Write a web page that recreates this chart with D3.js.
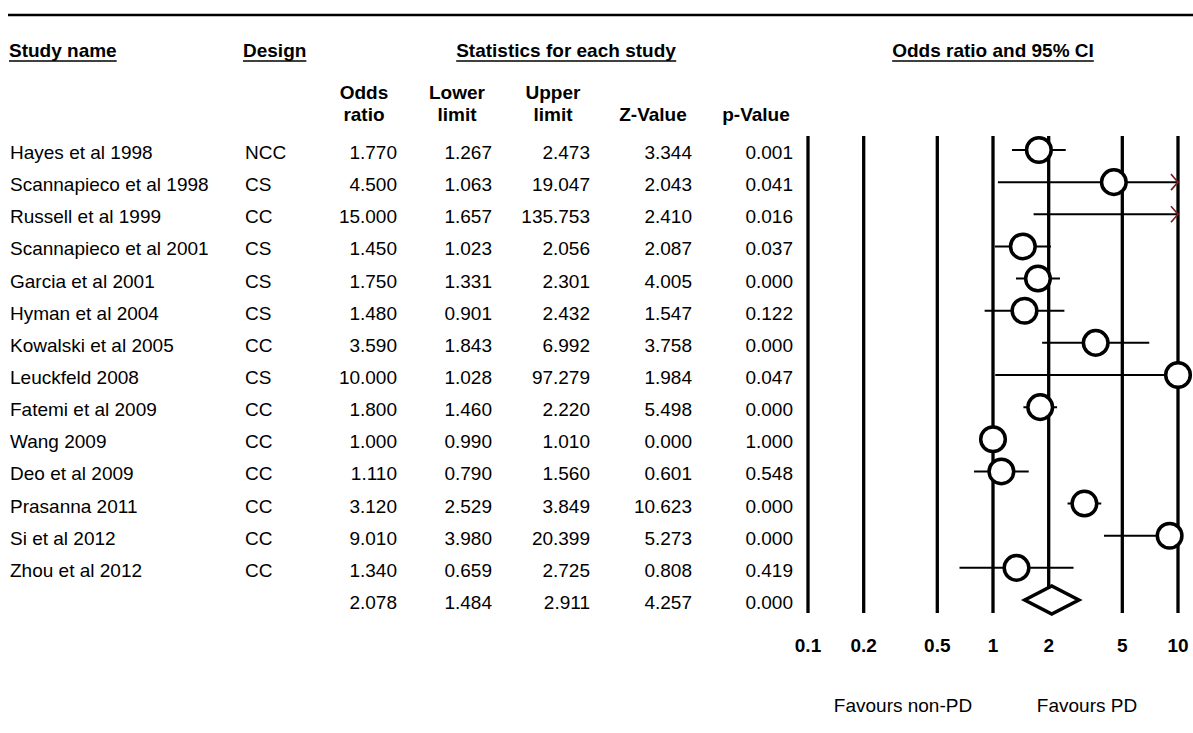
<!DOCTYPE html>
<html>
<head>
<meta charset="utf-8">
<script src="https://cdn.jsdelivr.net/npm/d3@7"></script>
<style>
  html, body { margin: 0; padding: 0; background: #fff; }
  svg { display: block; }
  text { font-family: "Liberation Sans", Arial, sans-serif; fill: #000; }
</style>
</head>
<body>
<svg id="chart" width="1193" height="733"></svg>
<script>
const studies = ["Hayes et al 1998","Scannapieco et al 1998","Russell et al 1999","Scannapieco et al 2001","Garcia et al 2001","Hyman et al 2004","Kowalski et al 2005","Leuckfeld 2008","Fatemi et al 2009","Wang 2009","Deo et al 2009","Prasanna 2011","Si et al 2012","Zhou et al 2012"];
const designs = ["NCC","CS","CC","CS","CS","CS","CC","CS","CC","CC","CC","CC","CC","CC"];
const oddsRatio = [1.770,4.500,15.000,1.450,1.750,1.480,3.590,10.000,1.800,1.000,1.110,3.120,9.010,1.340];
const lowerLimit = [1.267,1.063,1.657,1.023,1.331,0.901,1.843,1.028,1.460,0.990,0.790,2.529,3.980,0.659];
const upperLimit = [2.473,19.047,135.753,2.056,2.301,2.432,6.992,97.279,2.220,1.010,1.560,3.849,20.399,2.725];
const zValue = [3.344,2.043,2.410,2.087,4.005,1.547,3.758,1.984,5.498,0.000,0.601,10.623,5.273,0.808];
const pValue = [0.001,0.041,0.016,0.037,0.000,0.122,0.000,0.047,0.000,1.000,0.548,0.000,0.000,0.419];
const summaryOR = 2.078, summaryLower = 1.484, summaryUpper = 2.911, summaryZ = 4.257, summaryP = 0.000;
const tickValues = [0.1,0.2,0.5,1,2,5,10];
const tickLabels = ["0.1","0.2","0.5","1","2","5","10"];

const svg = d3.select("#chart");
const FS = 19;
const nRows = studies.length + 1;
const y = d3.scalePoint().domain(d3.range(nRows)).range([150, 600]);
const x = d3.scaleLog().domain([0.1, 10]).range([808, 1178]);
const fmt = d3.format(".3f");
const base = 9; // baseline offset from row centre

// top rule
svg.append("line").attr("x1", 8).attr("x2", 1193).attr("y1", 15).attr("y2", 15)
  .attr("stroke", "#000").attr("stroke-width", 2.5);

// header row 1 (bold, underlined)
function ulText(t, xpos, anchor) {
  const el = svg.append("text").attr("x", xpos).attr("y", 57).attr("font-size", FS)
    .attr("font-weight", "bold").attr("text-anchor", anchor).text(t);
  const bb = el.node().getBBox();
  svg.append("line").attr("x1", bb.x).attr("x2", bb.x + bb.width).attr("y1", 61).attr("y2", 61)
    .attr("stroke", "#000").attr("stroke-width", 1.5);
}
ulText("Study name", 9, "start");
ulText("Design", 243, "start");
ulText("Statistics for each study", 566, "middle");
ulText("Odds ratio and 95% CI", x(1), "middle");

// column definitions
const cols = [
  {h1: "Odds", h2: "ratio", cx: 364, right: 397, vals: oddsRatio, s: summaryOR},
  {h1: "Lower", h2: "limit", cx: 457, right: 492, vals: lowerLimit, s: summaryLower},
  {h1: "Upper", h2: "limit", cx: 553, right: 590, vals: upperLimit, s: summaryUpper},
  {h1: "", h2: "Z-Value", cx: 653, right: 692, vals: zValue, s: summaryZ},
  {h1: "", h2: "p-Value", cx: 756, right: 793, vals: pValue, s: summaryP}
];
cols.forEach(c => {
  if (c.h1) svg.append("text").attr("x", c.cx).attr("y", 99).attr("font-size", FS)
    .attr("font-weight", "bold").attr("text-anchor", "middle").text(c.h1);
  svg.append("text").attr("x", c.cx).attr("y", 121).attr("font-size", FS)
    .attr("font-weight", "bold").attr("text-anchor", "middle").text(c.h2);
  svg.append("g").selectAll("text").data(c.vals.concat([c.s])).join("text")
    .attr("x", c.right).attr("y", (d, i) => y(i) + base).attr("font-size", FS)
    .attr("text-anchor", "end").text(d => fmt(d));
});

svg.append("g").selectAll("text").data(studies).join("text")
  .attr("x", 10).attr("y", (d, i) => y(i) + base).attr("font-size", FS).text(d => d);
svg.append("g").selectAll("text").data(designs).join("text")
  .attr("x", 245).attr("y", (d, i) => y(i) + base).attr("font-size", FS).text(d => d);

// vertical reference lines
const yTop = y(0) - 14, yBot = y(nRows - 1) + 13;
svg.append("g").selectAll("line").data(tickValues).join("line")
  .attr("x1", d => x(d)).attr("x2", d => x(d)).attr("y1", yTop).attr("y2", yBot)
  .attr("stroke", "#000").attr("stroke-width", 3.3);

// tick labels
svg.append("g").selectAll("text").data(tickValues).join("text")
  .attr("x", d => x(d)).attr("y", 652).attr("font-size", FS).attr("font-weight", "bold")
  .attr("text-anchor", "middle").text((d, i) => tickLabels[i]);

// favours labels
svg.append("text").attr("x", 903).attr("y", 712).attr("font-size", FS)
  .attr("text-anchor", "middle").text("Favours non-PD");
svg.append("text").attr("x", 1087).attr("y", 712).attr("font-size", FS)
  .attr("text-anchor", "middle").text("Favours PD");

// CI lines
const rows = studies.map((s, i) => ({i, or: oddsRatio[i], lo: lowerLimit[i], hi: upperLimit[i]}));
const [dMin, dMax] = x.domain();
const clamp = v => Math.max(dMin, Math.min(dMax, v));
svg.append("g").selectAll("line").data(rows).join("line")
  .attr("x1", d => x(clamp(d.lo))).attr("x2", d => x(clamp(d.hi)))
  .attr("y1", d => y(d.i)).attr("y2", d => y(d.i))
  .attr("stroke", "#000").attr("stroke-width", 2);

// arrows for truncated upper limits
svg.append("g").selectAll("path").data(rows.filter(d => d.hi > dMax)).join("path")
  .attr("d", d => `M${x(dMax) - 7},${y(d.i) - 8} L${x(dMax)},${y(d.i)} L${x(dMax) - 7},${y(d.i) + 8}`)
  .attr("fill", "none").attr("stroke", "#7a1f1f").attr("stroke-width", 1.6);

// study markers
svg.append("g").selectAll("circle").data(rows.filter(d => d.or >= dMin && d.or <= dMax)).join("circle")
  .attr("cx", d => x(d.or)).attr("cy", d => y(d.i)).attr("r", 12.3)
  .attr("fill", "#fff").attr("stroke", "#000").attr("stroke-width", 3.5);

// summary diamond
const sy = y(nRows - 1);
svg.append("path")
  .attr("d", `M${x(summaryLower)},${sy} L${x(summaryOR)},${sy - 14} L${x(summaryUpper)},${sy} L${x(summaryOR)},${sy + 14} Z`)
  .attr("fill", "#fff").attr("stroke", "#000").attr("stroke-width", 3.5).attr("stroke-linejoin", "miter");
</script>
</body>
</html>
